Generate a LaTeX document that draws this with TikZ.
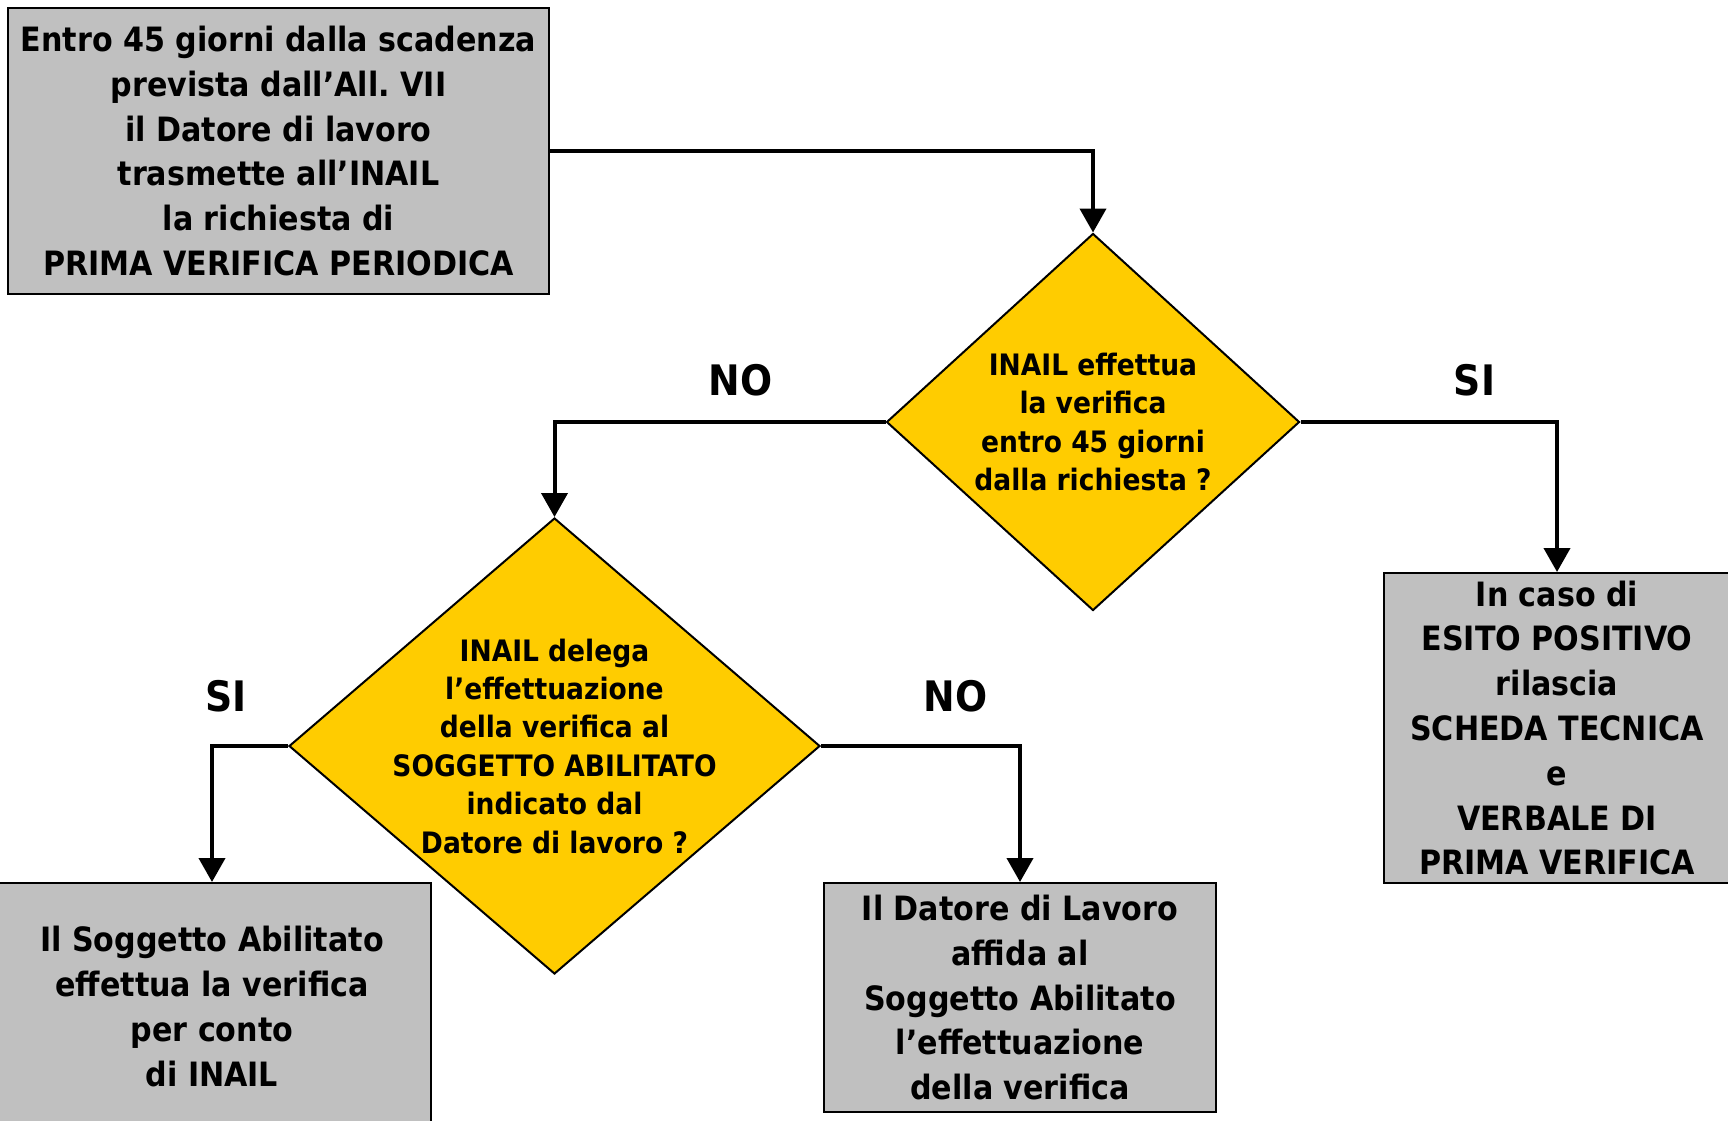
\documentclass[tikz,border=0pt]{standalone}
\usepackage{fontspec}
\setmainfont{DejaVu Sans Condensed}
\usetikzlibrary{shapes.geometric, arrows.meta}
\definecolor{boxgray}{HTML}{C0C0C0}
\definecolor{askyellow}{HTML}{FFCC00}
\frenchspacing

\begin{document}
\begin{tikzpicture}[x=1pt, y=-1pt,
    box/.style={draw, line width=2pt, fill=boxgray, inner sep=0pt, align=center,
        font=\fontsize{33.5}{44.8}\selectfont\bfseries},
    ask/.style={draw, line width=2pt, fill=askyellow, shape=diamond, inner sep=0pt},
    asktext/.style={align=center, font=\fontsize{29.5}{38.4}\selectfont\bfseries},
    answer/.style={font=\fontsize{42}{48}\selectfont\bfseries},
    flow/.style={line width=4pt, -{Triangle[width=26pt,length=24pt]}}]
\useasboundingbox (0,0) rectangle (1728,1120);
\clip (0,0) rectangle (1728,1120);

\node[box, minimum width=541pt, minimum height=286pt] (req) at (278.5,151)
    {Entro 45 giorni dalla scadenza\\prevista dall’All. VII\\il Datore di lavoro\\trasmette all’INAIL\\la richiesta di\\PRIMA VERIFICA PERIODICA};

\node[ask, minimum width=413pt, minimum height=377pt] (ask1) at (1093,422) {};
\node[asktext] (ask1t) at (ask1) {INAIL effettua\\la verifica\\entro 45 giorni\\dalla richiesta ?};

\node[ask, minimum width=531pt, minimum height=456pt] (ask2) at (554.5,746) {};
\node[asktext] (ask2t) at (ask2) {INAIL delega\\l’effettuazione\\della verifica al\\SOGGETTO ABILITATO\\indicato dal\\Datore di lavoro ?};

\node[box, minimum width=346pt, minimum height=310pt] (ok) at (1557,728)
    {In caso di\\ESITO POSITIVO\\rilascia\\SCHEDA TECNICA\\e\\VERBALE DI\\PRIMA VERIFICA};
\node[box, minimum width=438pt, minimum height=247pt] (sa) at (212,1006.5)
    {Il Soggetto Abilitato\\effettua la verifica\\per conto\\di INAIL};
\node[box, minimum width=392pt, minimum height=229pt] (dl) at (1020,997.5)
    {Il Datore di Lavoro\\affida al\\Soggetto Abilitato\\l’effettuazione\\della verifica};

% risposte
\foreach \n/\x/\y/\t in {no1/740.5/380/NO, si1/1474.5/380/SI, si2/226/696.5/SI, no2/955.5/696.5/NO}
    \node[answer] (\n) at (\x,\y) {\t};

\draw[flow] (req.east) -| (ask1.north);
\draw[flow] (ask1.west) -| (ask2.north);
\draw[flow] (ask1.east) -| (ok.north);
\draw[flow] (ask2.west) -| (sa.north);
\draw[flow] (ask2.east) -| (dl.north);

\end{tikzpicture}
\end{document}
